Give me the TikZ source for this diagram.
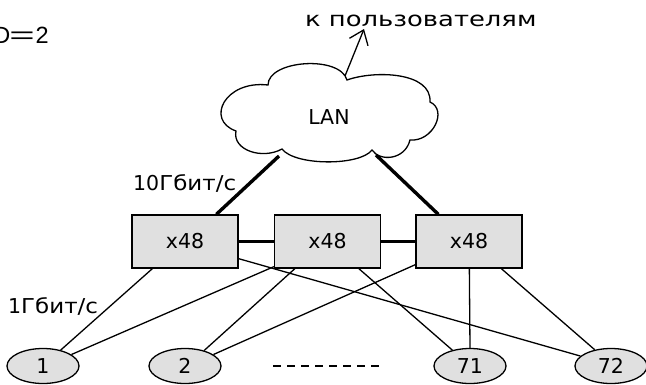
\documentclass[tikz,border=0pt]{standalone}
\usepackage{fontspec}
\usepackage{graphicx}
\setmainfont{DejaVu Sans}
\newfontfamily\headfont{Liberation Sans}
\usetikzlibrary{arrows.meta,shapes.geometric}
\definecolor{boxgray}{RGB}{224,224,224}
% wide setting used for the Cyrillic labels
\newcommand{\widetext}[2]{\scalebox{#1}[1]{#2}}
\begin{document}
\begin{tikzpicture}[x=1pt,y=-1pt,
  font=\fontsize{20.5}{24}\selectfont,
  link/.style={line width=1.3pt},
  trunk/.style={line width=3.4pt},
  switchbox/.style={draw,line width=1.3pt,fill=boxgray,minimum width=106pt,minimum height=53pt,inner sep=0pt},
  host/.style={draw,line width=1.3pt,fill=boxgray,ellipse,minimum width=72pt,minimum height=35pt,inner sep=0pt}]
\useasboundingbox (0,0) rectangle (646,384);

% diameter label, partly cut by the left edge
\node[anchor=base east,inner sep=0pt,font=\headfont\fontsize{23.5}{26}\selectfont] (diam) at (49,43) {D\kern-1pt\scalebox{1.85}[1]{=}\kern1pt 2};

% the LAN cloud
\draw[line width=1.3pt,fill=white]
  (236,131) .. controls (205,120) and (225,80) .. (268,85)
  .. controls (268,60) and (340,55) .. (347,80)
  .. controls (375,70) and (432,72) .. (430,102)
  .. controls (448,110) and (433,142) .. (410,140)
  .. controls (405,160) and (380,162) .. (372,150)
  .. controls (360,166) and (295,166) .. (282,149)
  .. controls (262,160) and (232,150) .. (236,131) -- cycle;
\node[anchor=base] (lan) at (329,124) {LAN};
\coordinate (cloudtop) at (345,76);
\coordinate (cloudl) at (279,156);
\coordinate (cloudr) at (376,155);

% uplink to the users
\node[anchor=base west,inner sep=0pt] (users) at (305,26) {\widetext{1.26}{к пользователям}};
\coordinate (up) at (364,29);
\draw[link,-{Straight Barb[length=13pt,width=20pt]}] (cloudtop) -- (up);

% switches
\node[switchbox] (s1) at (185,241.5) {x48};
\node[switchbox] (s2) at (327.5,241.5) {x48};
\node[switchbox] (s3) at (469,241.5) {x48};

% hosts
\node[host] (h1) at (43,366) {1};
\node[host] (h2) at (185,366) {2};
\node[host] (h71) at (470,366) {71};
\node[host] (h72) at (611,366) {72};

% speed labels
\node[anchor=base west,inner sep=0pt] (ten) at (133,190) {10\widetext{1.12}{Гбит/с}};
\node[anchor=base west,inner sep=0pt] (one) at (8,313) {1\widetext{1.12}{Гбит/с}};

% 10G trunks
\draw[trunk] (cloudl) -- ([xshift=85pt]s1.north west);
\draw[trunk] (cloudr) -- ([xshift=23pt]s3.north west);
\draw[trunk] (s1.east) -- (s2.west);
\draw[trunk] (s2.east) -- (s3.west);

% 1G host links
\draw[link] ([xshift=21pt]s1.south west) -- (h1.42);
\draw[link] ([yshift=2pt]s2.south west) -- (h1.22);
\draw[link] ([yshift=10pt]s1.south east) -- (h72.162);
\draw[link] ([xshift=21pt]s2.south west) -- (h2.39);
\draw[link] ([yshift=4pt]s3.south west) -- (h2.22);
\draw[link] ([xshift=85pt]s2.south west) -- (h71.138);
\draw[link] ([xshift=54pt]s3.south west) -- (h71.north);
\draw[link] ([xshift=86pt]s3.south west) -- (h72.135);

% elided hosts
\coordinate (gapl) at (273,366);
\coordinate (gapr) at (381,366);
\draw[line width=1.8pt,dash pattern=on 8pt off 6pt] (gapl) -- (gapr);
\end{tikzpicture}
\end{document}
